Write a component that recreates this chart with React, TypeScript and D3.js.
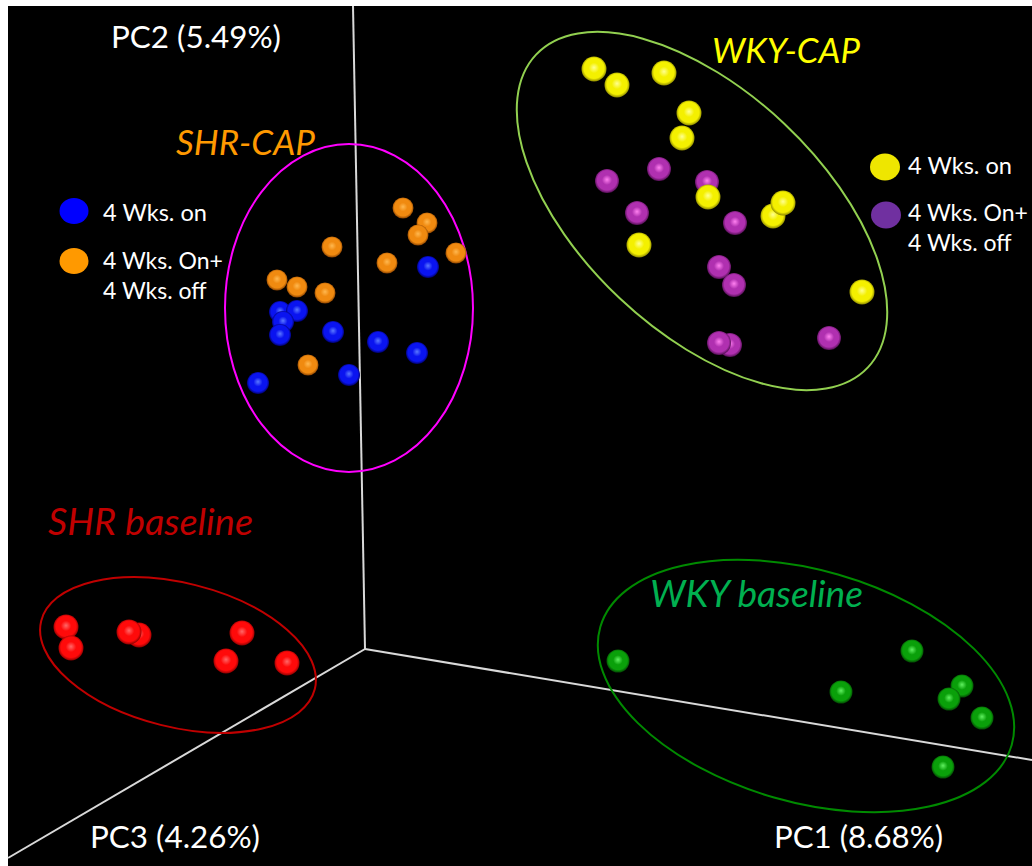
import React from "react";
import * as d3 from "d3";

// Projected PCA scores (plot units, origin at the axes' origin)
const shrCapOn: [number, number][] = [
  [-17.0, 67.4], [12.6, 76.4], [-13.6, 67.6], [-16.4, 65.4], [-17.0, 62.8],
  [-6.4, 63.4], [2.6, 61.4], [10.4, 59.2], [-3.2, 54.8], [-21.4, 53.2],
];
const shrCapOff: [number, number][] = [
  [7.6, 88.2], [12.4, 85.2], [10.6, 82.8], [18.2, 79.2], [4.4, 77.2],
  [-6.6, 80.4], [-17.6, 73.8], [-13.6, 72.4], [-8.0, 71.2], [-11.4, 56.8],
];
const wkyCapOff: [number, number][] = [
  [58.8, 96.0], [48.4, 93.6], [68.4, 93.4], [54.4, 87.2], [74.0, 85.2],
  [70.8, 76.4], [73.8, 72.8], [73.0, 60.8], [70.8, 61.2], [92.8, 62.2],
];
const wkyCapOn: [number, number][] = [
  [45.8, 116.0], [50.4, 112.8], [59.8, 115.2], [64.8, 107.2], [63.4, 102.2],
  [68.6, 90.4], [81.6, 86.6], [83.6, 89.2], [54.8, 80.8], [99.4, 71.4],
];
const shrBaseline: [number, number][] = [
  [-59.8, 4.4], [-58.8, 0.2], [-45.2, 2.8], [-47.2, 3.4], [-24.6, 3.2],
  [-27.8, -2.4], [-15.6, -2.8],
];
const wkyBaseline: [number, number][] = [
  [50.6, -2.4], [109.4, -0.4], [95.2, -8.6], [119.4, -7.4], [116.8, -10.0],
  [123.4, -13.8], [115.6, -23.6],
];

// axis end points (plot units)
const axisEnds = [
  { name: "PC2", end: [-2.4, 128.6] },
  { name: "PC1", end: [133.4, -22.2] },
  { name: "PC3", end: [-71.4, -41.8] },
];
const axisLabels = ["PC2 (5.49%)", "PC1 (8.68%)", "PC3 (4.26%)"];

// cluster ellipses: center u, v, semi-axes (units), rotation deg
const clusterEllipses = [
  { id: "shrcap", c: [-3.2, 68.2], a: 24.8, b: 32.8, rot: 0, color: "#FF00FF" },
  { id: "wkycap", c: [67.4, 87.6], a: 45.6, b: 24.0, rot: 43.3, color: "#92D050" },
  { id: "shrbase", c: [-37.4, -1.2], a: 28.2, b: 14.4, rot: 14, color: "#C00000" },
  { id: "wkybase", c: [88.2, -7.4], a: 42.8, b: 23.2, rot: 16, color: "#008A00" },
];

const groupLabels = ["SHR-CAP", "WKY-CAP", "SHR baseline", "WKY baseline"];
const legendLabels = ["4 Wks. on", "4 Wks. On+", "4 Wks. off"];

const W = 1032;
const H = 866;
const xScale = d3.scaleLinear().domain([-71.4, 133.4]).range([8, 1032]);
const yScale = d3.scaleLinear().domain([-43.4, 128.6]).range([866, 6]);
const unit = xScale(1) - xScale(0);

const sphereStyles: Record<string, { hi: string; base: string; dark: string }> = {
  blue: { hi: "#5a78ff", base: "#0a14f0", dark: "#00006a" },
  orange: { hi: "#ffb850", base: "#f08a10", dark: "#8a4200" },
  yellow: { hi: "#ffff90", base: "#f4f000", dark: "#8a8600" },
  purple: { hi: "#ff80f0", base: "#b030b0", dark: "#520e52" },
  red: { hi: "#ff6868", base: "#ff0a0a", dark: "#8a0000" },
  green: { hi: "#60f060", base: "#0aa00a", dark: "#034803" },
};

const series = [
  { key: "blue", data: shrCapOn, r: 11 },
  { key: "orange", data: shrCapOff, r: 10.5 },
  { key: "purple", data: wkyCapOff, r: 12 },
  { key: "yellow", data: wkyCapOn, r: 12.5 },
  { key: "red", data: shrBaseline, r: 12.5 },
  { key: "green", data: wkyBaseline, r: 11.5 },
];

const FONT = "Lato, 'Open Sans', sans-serif";

export default function App() {
  const ox = xScale(0);
  const oy = yScale(0);
  return (
    <svg
      width={W}
      height={H}
      style={{ position: "absolute", left: 0, top: 0, display: "block" }}
    >
      <defs>
        {Object.entries(sphereStyles).map(([k, s]) => (
          <radialGradient key={k} id={`g-${k}`} cx="50%" cy="48%" r="52%" fx="50%" fy="44%">
            <stop offset="0%" stopColor={s.hi} />
            <stop offset="40%" stopColor={s.base} />
            <stop offset="78%" stopColor={s.base} />
            <stop offset="100%" stopColor={s.dark} />
          </radialGradient>
        ))}
      </defs>
      <rect x={0} y={0} width={W} height={H} fill="#fff" />
      <rect x={8} y={6} width={W - 8} height={H - 6} fill="#000" />

      {/* axes */}
      {axisEnds.map((a) => (
        <line
          key={a.name}
          x1={ox}
          y1={oy}
          x2={xScale(a.end[0])}
          y2={yScale(a.end[1])}
          stroke="#d9d9d9"
          strokeWidth={2}
        />
      ))}

      {/* ellipses */}
      {clusterEllipses.map((e) => (
        <ellipse
          key={e.id}
          cx={0}
          cy={0}
          rx={e.a * unit}
          ry={e.b * unit}
          transform={`translate(${xScale(e.c[0])},${yScale(e.c[1])}) rotate(${e.rot})`}
          fill="none"
          stroke={e.color}
          strokeWidth={2}
        />
      ))}

      {/* spheres */}
      {series.map((s) =>
        s.data.map((d, i) => (
          <circle
            key={`${s.key}-${i}`}
            cx={xScale(d[0])}
            cy={yScale(d[1])}
            r={s.r}
            fill={`url(#g-${s.key})`}
          />
        ))
      )}

      {/* axis labels */}
      <g fontFamily={FONT} fill="#fff" fontSize={31}>
        <text x={111} y={48} textLength={170} lengthAdjust="spacingAndGlyphs">{axisLabels[0]}</text>
        <text x={774} y={848} textLength={169} lengthAdjust="spacingAndGlyphs">{axisLabels[1]}</text>
        <text x={90} y={848} textLength={170} lengthAdjust="spacingAndGlyphs">{axisLabels[2]}</text>
      </g>

      {/* group labels */}
      <g fontFamily={FONT} fontStyle="italic" fontSize={35}>
        <text x={176} y={155} fill="#FF9900" textLength={139} lengthAdjust="spacingAndGlyphs">{groupLabels[0]}</text>
        <text x={712} y={63} fill="#FFFF00" textLength={148} lengthAdjust="spacingAndGlyphs">{groupLabels[1]}</text>
        <text x={48} y={535} fill="#C00000" fontSize={37} textLength={205} lengthAdjust="spacingAndGlyphs">{groupLabels[2]}</text>
        <text x={650} y={607} fill="#00B050" fontSize={37} textLength={213} lengthAdjust="spacingAndGlyphs">{groupLabels[3]}</text>
      </g>

      {/* legends */}
      <g fontFamily={FONT} fill="#fff" fontSize={23}>
        <ellipse cx={74} cy={211} rx={14.5} ry={13} fill="#0000FF" />
        <text x={103} y={221} textLength={104} lengthAdjust="spacingAndGlyphs">{legendLabels[0]}</text>
        <ellipse cx={74} cy={261} rx={14.5} ry={13} fill="#FF9900" />
        <text x={103} y={269}>{legendLabels[1]}</text>
        <text x={103} y={299}>{legendLabels[2]}</text>

        <ellipse cx={885} cy={167} rx={15} ry={13.5} fill="#EEE600" />
        <text x={908} y={174} textLength={104} lengthAdjust="spacingAndGlyphs">{legendLabels[0]}</text>
        <ellipse cx={886} cy={215} rx={15} ry={13.5} fill="#7030A0" />
        <text x={908} y={221}>{legendLabels[1]}</text>
        <text x={908} y={251}>{legendLabels[2]}</text>
      </g>
    </svg>
  );
}
